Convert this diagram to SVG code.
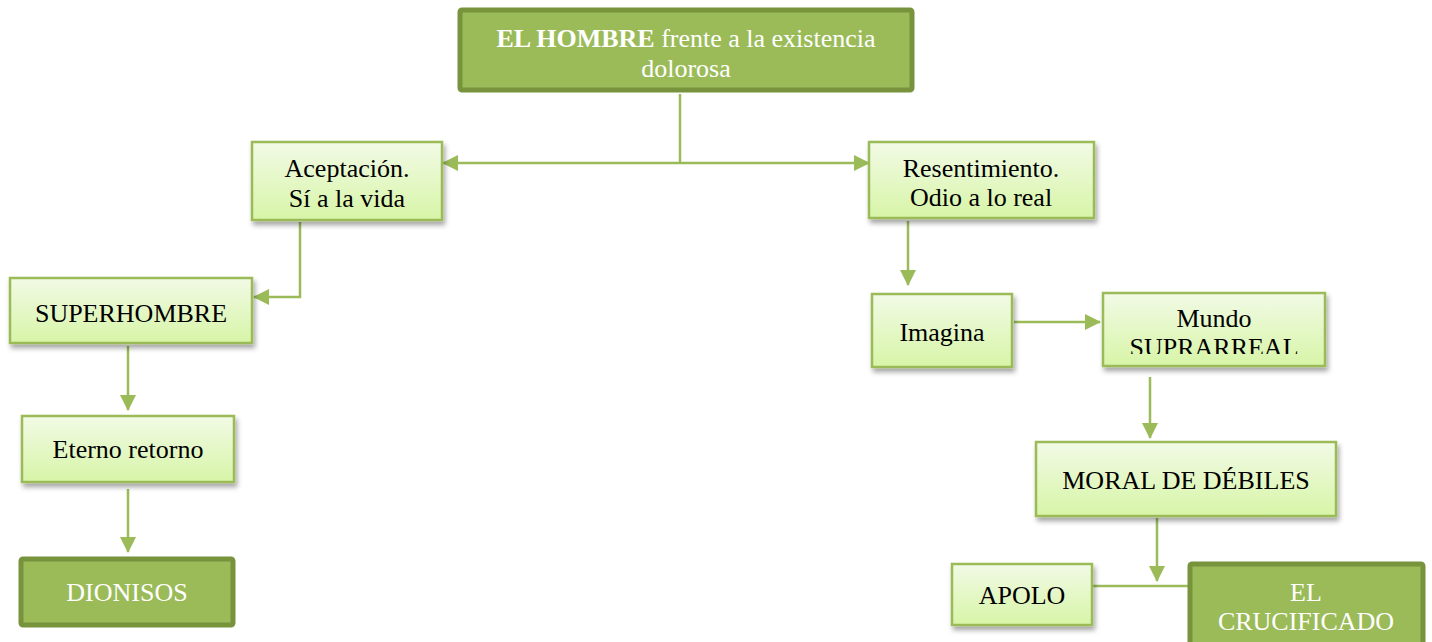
<svg xmlns="http://www.w3.org/2000/svg" width="1432" height="642" viewBox="0 0 1432 642">
<style>
.t{font-family:"Liberation Serif","Times New Roman",serif;font-size:26px;text-anchor:middle;fill:#000}
.w{fill:#fff}
.light{fill:url(#g);stroke:#9BBB59;stroke-width:2.5;filter:url(#sh)}
.dark{fill:#9BBB59;stroke:#77933C;stroke-width:5}
.c{fill:none;stroke:#9BBB59;stroke-width:2.5}
</style>
<defs>
<linearGradient id="g" x1="0" y1="0" x2="0" y2="1">
<stop offset="0" stop-color="#F2FAE6"/>
<stop offset="1" stop-color="#D7F5A7"/>
</linearGradient>
<filter id="sh" x="-10%" y="-10%" width="130%" height="140%">
<feDropShadow dx="2" dy="4" stdDeviation="2.5" flood-color="#000" flood-opacity="0.35"/>
</filter>
<marker id="ah" markerWidth="16" markerHeight="16" viewBox="0 0 16 16" refX="15" refY="8" orient="auto" markerUnits="userSpaceOnUse">
<path d="M0,0 L16,8 L0,16 Z" fill="#9BBB59"/>
</marker>
<marker id="ahs" markerWidth="16" markerHeight="16" viewBox="0 0 16 16" refX="1" refY="8" orient="auto" markerUnits="userSpaceOnUse">
<path d="M16,0 L0,8 L16,16 Z" fill="#9BBB59"/>
</marker>
<clipPath id="cm"><rect x="1100" y="290" width="230" height="64"/></clipPath>
</defs>
<g id="connectors">
<line class="c" x1="680" y1="94" x2="680" y2="163"/>
<line class="c" x1="443" y1="163" x2="869" y2="163" marker-start="url(#ahs)" marker-end="url(#ah)"/>
<polyline class="c" points="300,222 300,297 254,297" marker-end="url(#ah)"/>
<line class="c" x1="128" y1="346" x2="128" y2="410" marker-end="url(#ah)"/>
<line class="c" x1="128" y1="489" x2="128" y2="552" marker-end="url(#ah)"/>
<line class="c" x1="908" y1="221" x2="908" y2="285" marker-end="url(#ah)"/>
<line class="c" x1="1014" y1="322" x2="1100" y2="322" marker-end="url(#ah)"/>
<line class="c" x1="1150" y1="377" x2="1150" y2="438" marker-end="url(#ah)"/>
<line class="c" x1="1157" y1="518" x2="1157" y2="581" marker-end="url(#ah)"/>
<line class="c" x1="1092" y1="586" x2="1188" y2="586"/>
</g>
<g id="n-top">
<rect class="dark" x="460" y="10" width="452" height="80" rx="2"/>
<text class="t w" x="686" y="47"><tspan font-weight="bold">EL HOMBRE</tspan> frente a la existencia</text>
<text class="t w" x="686" y="77">dolorosa</text>
</g>
<g id="n-aceptacion">
<rect class="light" x="252" y="142" width="190" height="78"/>
<text class="t" x="347" y="177">Aceptación.</text>
<text class="t" x="347" y="207">Sí a la vida</text>
</g>
<g id="n-resentimiento">
<rect class="light" x="869" y="142" width="225" height="76"/>
<text class="t" x="981" y="177">Resentimiento.</text>
<text class="t" x="981" y="206">Odio a lo real</text>
</g>
<g id="n-superhombre">
<rect class="light" x="10" y="278" width="242" height="65"/>
<text class="t" x="131" y="322">SUPERHOMBRE</text>
</g>
<g id="n-eterno">
<rect class="light" x="22" y="416" width="212" height="66"/>
<text class="t" x="128" y="458">Eterno retorno</text>
</g>
<g id="n-dionisos">
<rect class="dark" x="21" y="559" width="212" height="66" rx="2"/>
<text class="t w" x="127" y="601">DIONISOS</text>
</g>
<g id="n-imagina">
<rect class="light" x="872" y="294" width="140" height="73"/>
<text class="t" x="942" y="341">Imagina</text>
</g>
<g id="n-mundo">
<rect class="light" x="1103" y="293" width="222" height="73"/>
<text class="t" x="1214" y="327">Mundo</text>
<text class="t" x="1214" y="356" clip-path="url(#cm)">SUPRARREAL</text>
</g>
<g id="n-moral">
<rect class="light" x="1036" y="442" width="300" height="74"/>
<text class="t" x="1186" y="489">MORAL DE DÉBILES</text>
</g>
<g id="n-apolo">
<rect class="light" x="952" y="564" width="140" height="61"/>
<text class="t" x="1022" y="604">APOLO</text>
</g>
<g id="n-crucificado">
<rect class="dark" x="1190" y="564" width="233" height="90" rx="2"/>
<text class="t w" x="1306" y="601">EL</text>
<text class="t w" x="1306" y="630">CRUCIFICADO</text>
</g>
</svg>
